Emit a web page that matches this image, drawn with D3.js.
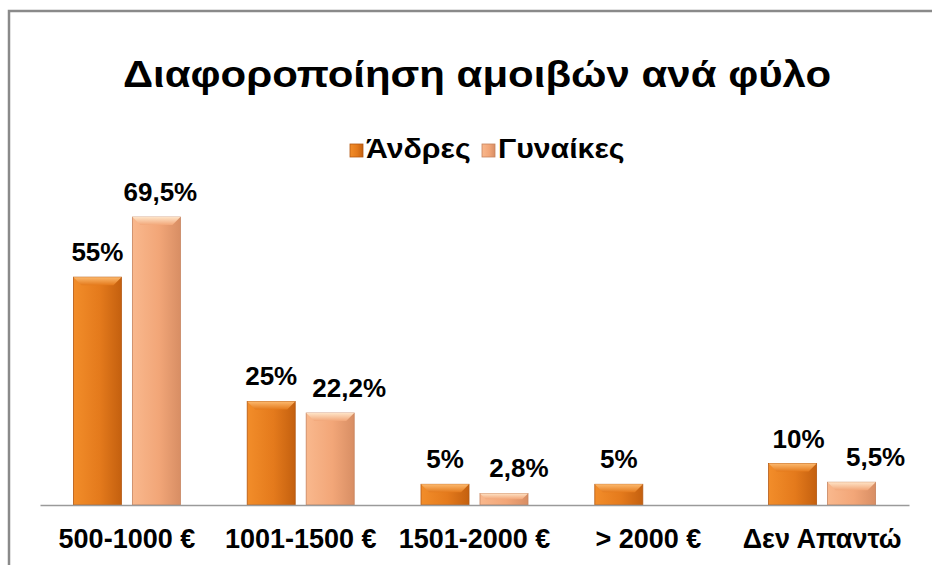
<!DOCTYPE html>
<html><head><meta charset="utf-8">
<script src="https://cdn.jsdelivr.net/npm/d3@7"></script>
<style>html,body{margin:0;padding:0;background:#fff;}svg{display:block;}</style>
</head><body>
<svg id="c" width="932" height="565"></svg>
<script>
const categories = ["500-1000 €", "1001-1500 €", "1501-2000 €", "> 2000 €", "Δεν Απαντώ"];
const seriesNames = ["Άνδρες", "Γυναίκες"];
const andres = [55, 25, 5, 5, 10];
const gynaikes = [69.5, 22.2, 2.8, null, 5.5];
const labelsAndres = ["55%", "25%", "5%", "5%", "10%"];
const labelsGynaikes = ["69,5%", "22,2%", "2,8%", "", "5,5%"];
const title = "Διαφοροποίηση αμοιβών ανά φύλο";

const svg = d3.select("#c");
const font = "'Liberation Sans', Arial, sans-serif";

// frame
svg.append("rect").attr("x", 9).attr("y", 11).attr("width", 940).attr("height", 570)
  .attr("fill", "#fff").attr("stroke", "#8a8a8a").attr("stroke-width", 2.5);

const defs = svg.append("defs");
const pal = [
  {base: ["#F28D2A", "#E47A1C", "#C4600F"], bevel: "#FCB96E", edge: "#B35812"},
  {base: ["#F9B88D", "#F2A678", "#D88E64"], bevel: "#FEE3C6", edge: "#C6835D"}
];
pal.forEach((p, i) => {
  const g = defs.append("linearGradient").attr("id", "g" + i).attr("x1", 0).attr("x2", 1).attr("y1", 0).attr("y2", 0);
  g.append("stop").attr("offset", "0%").attr("stop-color", p.base[0]);
  g.append("stop").attr("offset", "55%").attr("stop-color", p.base[1]);
  g.append("stop").attr("offset", "100%").attr("stop-color", p.base[2]);
  const b = defs.append("linearGradient").attr("id", "b" + i).attr("x1", 0).attr("x2", 0).attr("y1", 0).attr("y2", 1);
  b.append("stop").attr("offset", "0%").attr("stop-color", p.bevel);
  b.append("stop").attr("offset", "100%").attr("stop-color", p.base[1]);
});

// title (horizontally stretched like the reference rendering)
svg.append("text").attr("transform", "translate(477,87) scale(1.12,1)").attr("text-anchor", "middle")
  .attr("font-family", font).attr("font-weight", "bold").attr("font-size", 37.5)
  .attr("fill", "#000").text(title);

// legend
const legend = svg.append("g").attr("font-family", font).attr("font-weight", "bold").attr("font-size", 28);
const legX = [350, 482];
seriesNames.forEach((s, i) => {
  legend.append("rect").attr("x", legX[i]).attr("y", 144).attr("width", 13).attr("height", 13)
    .attr("fill", "url(#g" + i + ")").attr("stroke", pal[i].edge).attr("stroke-width", 0.8);
  legend.append("text").attr("transform", `translate(${legX[i] + 16},158) scale(1.08,1)`).text(s);
});

const x0 = d3.scaleBand().domain(categories).range([40, 909]).padding(0);
const x1 = d3.scaleBand().domain(seriesNames).range([33.4, 140.4]).paddingInner(0.186);
const y = d3.scaleLinear().domain([0, 70]).range([505, 215]);

const data = [andres, gynaikes];
const labels = [labelsAndres, labelsGynaikes];
// label nudges (layout only) as placed in the reference
const labelDx = [[0, 0, 0, 0, 6], [4, 19, 15, 0, 24]];
const plot = svg.append("g");

categories.forEach((c, ci) => {
  seriesNames.forEach((s, si) => {
    const v = data[si][ci];
    if (v == null) return;
    const bx = x0(c) + x1(s), bw = x1.bandwidth();
    const by = y(v), bh = y(0) - y(v);
    plot.append("rect").attr("x", bx).attr("y", by).attr("width", bw).attr("height", bh)
      .attr("fill", "url(#g" + si + ")").attr("stroke", pal[si].edge).attr("stroke-width", 0.8);
    const bev = Math.min(8, bh / 2);
    plot.append("path")
      .attr("d", `M${bx},${by}L${bx + bw},${by}L${bx + bw - bev},${by + bev}L${bx + bev},${by + bev}Z`)
      .attr("fill", "url(#b" + si + ")");
    plot.append("text").attr("x", bx + bw / 2 + labelDx[si][ci]).attr("y", by - 16).attr("text-anchor", "middle")
      .attr("font-family", font).attr("font-weight", "bold").attr("font-size", 26)
      .attr("fill", "#000").text(labels[si][ci]);
  });
});

// axis
const axis = svg.append("g").attr("transform", "translate(0,505)")
  .call(d3.axisBottom(x0).tickSize(0).tickPadding(43));
axis.select(".domain").attr("stroke", "#9a9a9a").attr("stroke-width", 1.5);
axis.selectAll("text").attr("font-family", font).attr("font-weight", "bold")
  .attr("font-size", 27).attr("fill", "#000").attr("dy", "0");
</script>
</body></html>
